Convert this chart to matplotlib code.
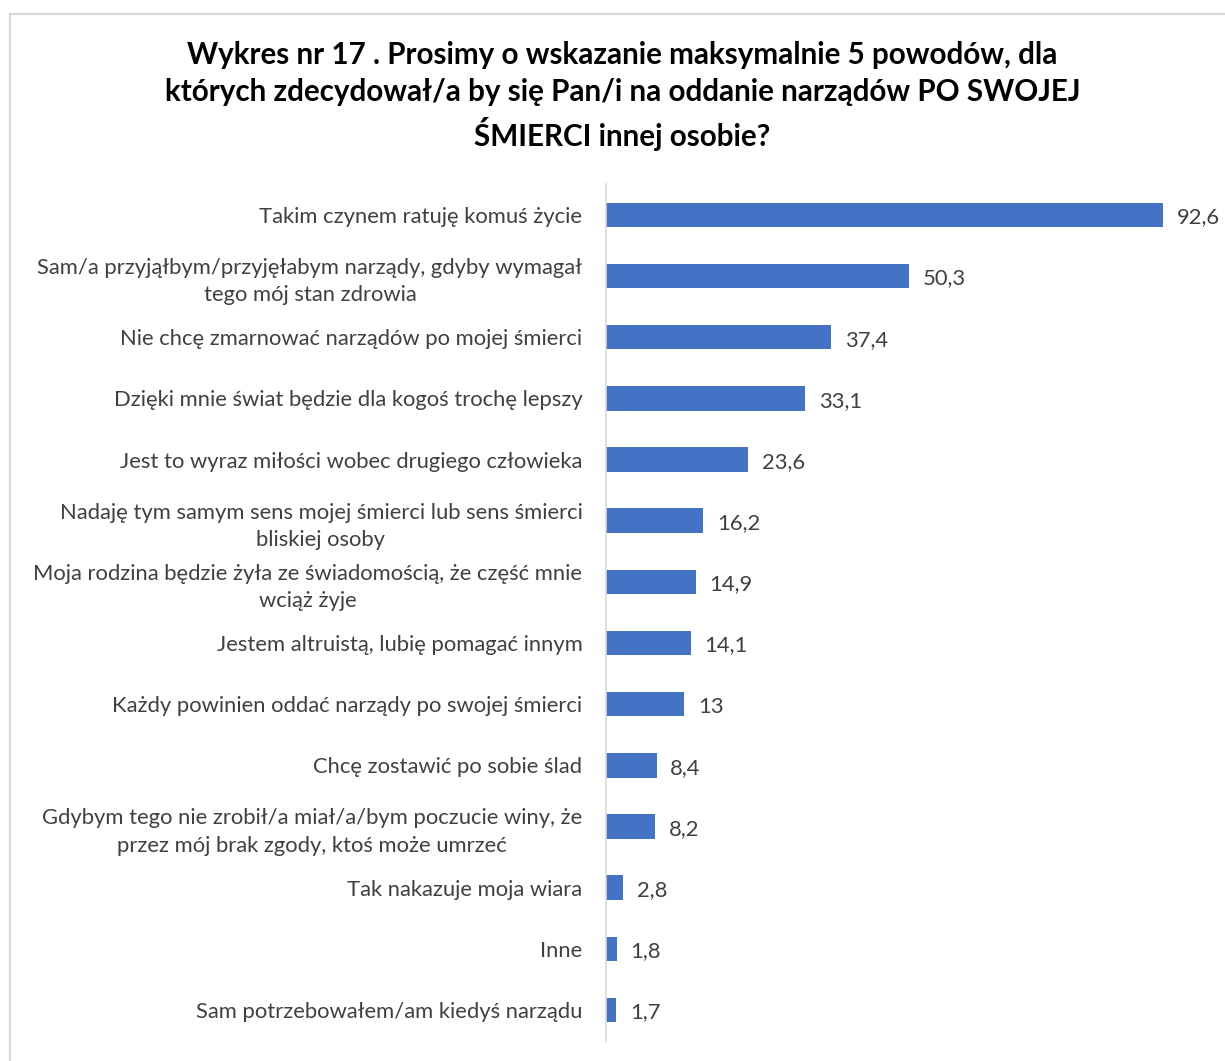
import matplotlib.pyplot as plt
from matplotlib.patches import Rectangle

# dane
reasons = [
    "Takim czynem ratuję komuś życie",
    "Sam/a przyjąłbym/przyjęłabym narządy, gdyby wymagał\ntego mój stan zdrowia",
    "Nie chcę zmarnować narządów po mojej śmierci",
    "Dzięki mnie świat będzie dla kogoś trochę lepszy",
    "Jest to wyraz miłości wobec drugiego człowieka",
    "Nadaję tym samym sens mojej śmierci lub sens śmierci\nbliskiej osoby",
    "Moja rodzina będzie żyła ze świadomością, że część mnie\nwciąż żyje",
    "Jestem altruistą, lubię pomagać innym",
    "Każdy powinien oddać narządy po swojej śmierci",
    "Chcę zostawić po sobie ślad",
    "Gdybym tego nie zrobił/a miał/a/bym poczucie winy, że\nprzez mój brak zgody, ktoś może umrzeć",
    "Tak nakazuje moja wiara",
    "Inne",
    "Sam potrzebowałem/am kiedyś narządu",
]
values = [92.6, 50.3, 37.4, 33.1, 23.6, 16.2, 14.9, 14.1, 13, 8.4, 8.2, 2.8, 1.8, 1.7]
value_labels = ["92,6", "50,3", "37,4", "33,1", "23,6", "16,2", "14,9", "14,1",
                "13", "8,4", "8,2", "2,8", "1,8", "1,7"]

title = ("Wykres nr 17 . Prosimy o wskazanie maksymalnie 5 powodów, dla\n"
         "których zdecydował/a by się Pan/i na oddanie narządów PO SWOJEJ\n"
         "ŚMIERCI innej osobie?")

plt.rcParams['font.family'] = ['Lato', 'DejaVu Sans']

fig = plt.figure(figsize=(12.25, 10.61), dpi=100)

# ramka wykresu
fig.patches.append(Rectangle((10 / 1225, -0.1), 1.2, 1 - 14 / 1061 + 0.1,
                             transform=fig.transFigure, fill=False,
                             edgecolor='#d9d9d9', linewidth=1.5))

ax = fig.add_axes([0.4947, 0.0193, 0.491, 0.807])
pos = list(range(len(values)))
ax.barh(pos, values, height=0.4, color='#4472c4')
ax.set_ylim(len(values) - 0.5, -0.5)
ax.set_xlim(0, 100)

ax.set_yticks(pos)
ax.set_yticklabels(reasons, fontsize=15.8, color='#404040',
                   multialignment='center', linespacing=1.45)
ax.tick_params(axis='y', length=0, pad=17)
ax.set_xticks([])

for s in ['top', 'right', 'bottom']:
    ax.spines[s].set_visible(False)
ax.spines['left'].set_color('#d9d9d9')
ax.spines['left'].set_linewidth(1.2)

for p, v, lab in zip(pos, values, value_labels):
    ax.text(v + 2.3, p + 0.04, lab, va='center', ha='left', fontsize=15.8,
            color='#404040')

fig.text(0.508, 0.961, title, ha='center', va='top', fontsize=21.3,
         fontweight='bold', color='black', linespacing=1.38)

fig.savefig('out.png', dpi=100)
